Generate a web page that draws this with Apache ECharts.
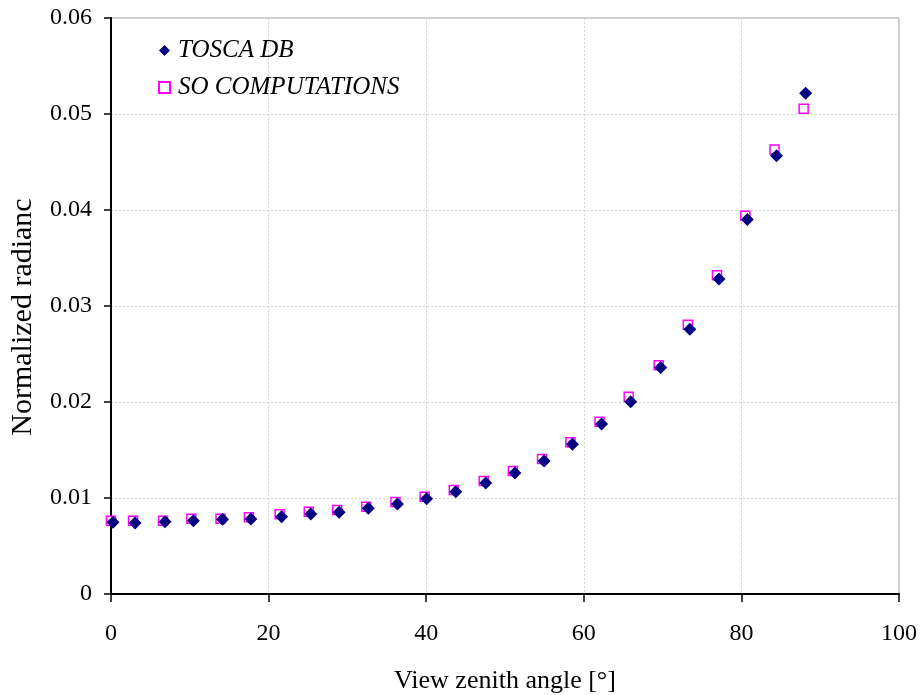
<!DOCTYPE html>
<html>
<head>
<meta charset="utf-8">
<script src="https://cdn.jsdelivr.net/npm/echarts@6/dist/echarts.min.js"></script>
<style>
  html, body { margin: 0; padding: 0; background: #fff; }
  #chart { width: 922px; height: 695px; }
</style>
</head>
<body>
<div id="chart"></div>
<script>
// view zenith angles (deg)
const angles = [0, 2.8, 6.6, 10.2, 13.9, 17.5, 21.4, 25.1, 28.7, 32.4, 36.1, 39.8, 43.5,
  47.3, 51.0, 54.7, 58.3, 62.0, 65.7, 69.5, 73.2, 76.9, 80.5, 84.2, 87.9]
const toscaDb = [0.00747, 0.00740, 0.00753, 0.00764, 0.00778, 0.00780, 0.00805, 0.00833, 0.00851,
  0.00893, 0.00938, 0.00993, 0.01066, 0.01155, 0.01260, 0.01385, 0.01560, 0.01770, 0.02003,
  0.02360, 0.02757, 0.0328, 0.0390, 0.04566, 0.05216]
const soComp = [0.00764, 0.00764, 0.00764, 0.00784, 0.00784, 0.00799, 0.00830, 0.00857, 0.00875,
  0.00909, 0.00958, 0.01014, 0.01083, 0.01177, 0.01281, 0.01406, 0.01580, 0.01795, 0.02055,
  0.02382, 0.02805, 0.0332, 0.0394, 0.0463, 0.05055]
const seriesNames = ['TOSCA DB', 'SO COMPUTATIONS']

const font = 'Liberation Serif, Times New Roman, serif'
const chart = echarts.init(document.getElementById('chart'))

chart.setOption({
  animation: false,
  backgroundColor: '#fff',
  textStyle: { fontFamily: font, color: '#000' },
  grid: {
    left: 111, right: 23, top: 18, bottom: 101,
    outerBoundsMode: 'none',
    show: true, borderColor: '#a0a0a0', borderWidth: 1
  },
  legend: {
    orient: 'vertical',
    left: 153, top: 33,
    itemWidth: 11, itemHeight: 11, itemGap: 12,
    data: seriesNames,
    textStyle: { fontFamily: font, fontSize: 25, fontStyle: 'italic', color: '#000', padding: [0, 0, 0, 3] }
  },
  xAxis: {
    type: 'value',
    min: 0, max: 100, interval: 20,
    name: 'View zenith angle [°]',
    nameLocation: 'middle',
    nameGap: 74,
    nameTextStyle: { fontFamily: font, fontSize: 26, color: '#000' },
    axisLine: { show: true, onZero: false, lineStyle: { color: '#000', width: 2 } },
    axisTick: { show: true, length: 8, lineStyle: { color: '#000', width: 1.5 } },
    axisLabel: { fontFamily: font, fontSize: 24, color: '#000', margin: 28 },
    splitLine: { show: true, lineStyle: { color: '#d4d4d4', type: [2, 2] } }
  },
  yAxis: {
    type: 'value',
    min: 0, max: 0.06, interval: 0.01,
    name: 'Normalized radianc',
    nameLocation: 'middle',
    nameGap: 73,
    nameTextStyle: { fontFamily: font, fontSize: 30, color: '#000', padding: [0, 22, 0, 0] },
    axisLine: { show: true, onZero: false, lineStyle: { color: '#000', width: 2 } },
    axisTick: { show: true, length: 7, lineStyle: { color: '#000', width: 1.5 } },
    axisLabel: { fontFamily: font, fontSize: 24, color: '#000', margin: 19 },
    splitLine: { show: true, lineStyle: { color: '#d4d4d4', type: [2, 2] } }
  },
  series: [
    {
      name: seriesNames[0],
      type: 'scatter',
      z: 3,
      symbol: 'diamond',
      symbolSize: 13,
      symbolOffset: [2, 0],
      itemStyle: { color: '#000080', opacity: 1 },
      data: angles.map((a, i) => [a, toscaDb[i]])
    },
    {
      name: seriesNames[1],
      type: 'scatter',
      z: 2,
      symbol: 'rect',
      symbolSize: 9,
      itemStyle: { color: '#fff', borderColor: '#ff00ff', borderWidth: 1.5, opacity: 1 },
      data: angles.map((a, i) => [a, soComp[i]])
    }
  ]
})
</script>
</body>
</html>
